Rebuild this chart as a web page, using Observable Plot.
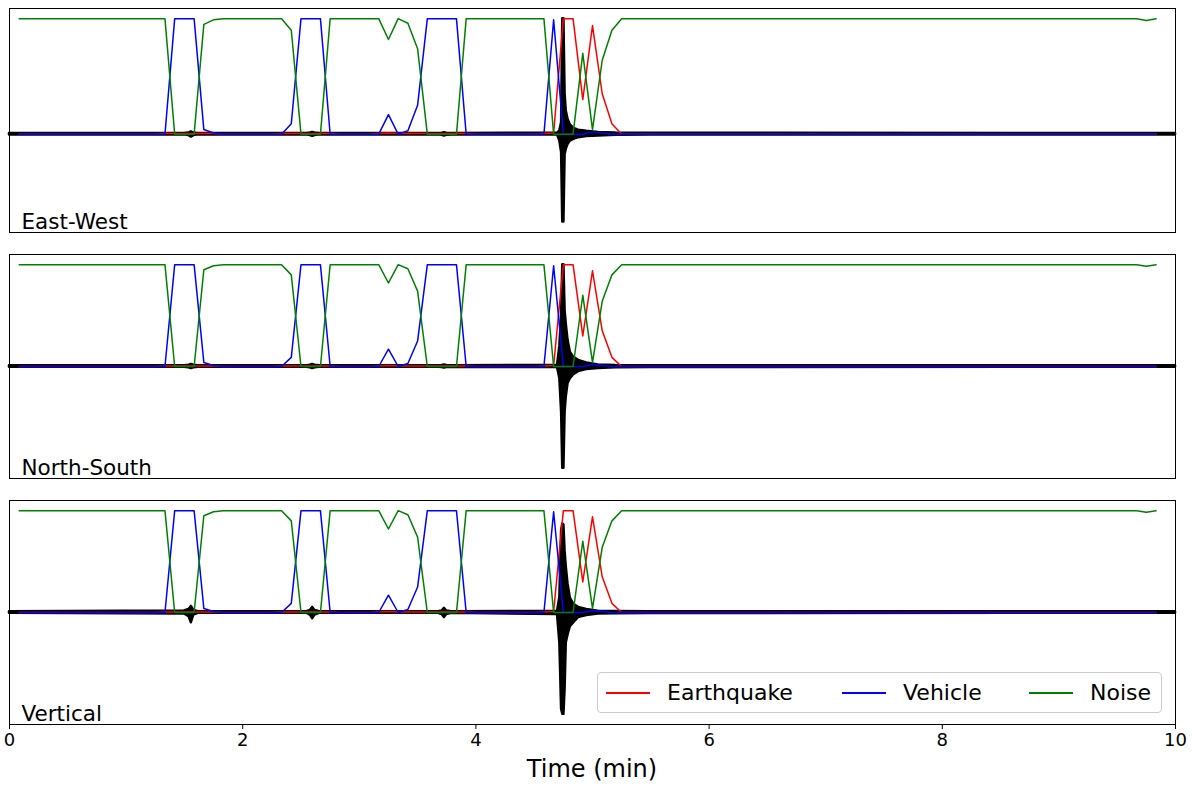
<!DOCTYPE html>
<html><head><meta charset="utf-8">
<script src="https://cdn.jsdelivr.net/npm/d3@7"></script>
<script src="https://cdn.jsdelivr.net/npm/@observablehq/plot@0.6"></script>
<style>
body{margin:0;background:#fff;font-family:"DejaVu Sans",sans-serif;}
#wrap{position:relative;width:1192px;height:785px;overflow:hidden;background:#fff;}
.panel{position:absolute;left:0;}
#legend{position:absolute;left:597px;top:672px;width:565px;height:41px;border:1px solid #cccccc;border-radius:4px;background:rgba(255,255,255,0.8);box-sizing:border-box;}
.li{position:absolute;top:0;height:39px;display:flex;align-items:center;font-size:22px;color:#000;white-space:nowrap;}
.li svg{margin-right:17px;}
#xlabel{position:absolute;left:0;width:1184px;text-align:center;top:755px;font-size:24px;color:#000;}
</style></head><body><div id="wrap"></div>
<script>
// ---- Classification probabilities, one value every 5 s (t in seconds) ----
const probSeconds = [5,10,15,20,25,30,35,40,45,50,55,60,65,70,75,80,85,90,95,100,
105,110,115,120,125,130,135,140,145,150,155,160,165,170,175,180,185,190,195,200,
205,210,215,220,225,230,235,240,245,250,255,260,265,270,275,280,285,290,295,300,
305,310,315,320,325,330,335,340,345,350,355,360,365,370,375,380,385,390,395,400,
405,410,415,420,425,430,435,440,445,450,455,460,465,470,475,480,485,490,495,500,
505,510,515,520,525,530,535,540,545,550,555,560,565,570,575,580,585,590];

const earthquakeProb = [0,0,0,0,0,0,0,0,0,0,
0,0,0,0,0,0.005,0.005,0.005,0.005,0.005,
0.005,0,0,0,0,0,0,0.005,0.005,0.005,
0.005,0.005,0.005,0,0,0,0,0.005,0.01,0.005,
0.005,0.005,0.005,0.005,0.005,0.005,0.005,0,0,0,
0,0,0,0,0.005,0.01,1,1,0.30,0.94,
0.35,0.09,0,0,0,0,0,0,0,0,
0,0,0,0,0,0,0,0,0,0,
0,0,0,0,0,0,0,0,0,0,
0,0,0,0,0,0,0,0,0,0,
0,0,0,0,0,0,0,0,0,0,
0,0,0,0,0,0,0,0];

const vehicleProb = [0,0,0,0,0,0,0,0,0,0,
0,0,0,0,0,0,1,1,1,0.04,
0.01,0,0,0,0,0,0,0,0.09,1,
1,1,0,0,0,0,0,0,0.17,0,
0.03,0.25,1,1,1,1,0,0,0,0,
0,0,0,0,0,0.99,0,0,0,0.02,
0.01,0,0,0,0,0,0,0,0,0,
0,0,0,0,0,0,0,0,0,0,
0,0,0,0,0,0,0,0,0,0,
0,0,0,0,0,0,0,0,0,0,
0,0,0,0,0,0,0,0,0,0,
0,0,0,0,0,0,0,0];

const noiseProb = [1,1,1,1,1,1,1,1,1,1,
1,1,1,1,1,1,0,0,0,0.95,
0.99,1,1,1,1,1,1,1,0.90,0,
0,0,1,1,1,1,1,1,0.82,1,
0.96,0.74,0,0,0,0,1,1,1,1,
1,1,1,1,1,0,0,0,0.70,0.04,
0.64,0.90,1,1,1,1,1,1,1,1,
1,1,1,1,1,1,1,1,1,1,
1,1,1,1,1,1,1,1,1,1,
1,1,1,1,1,1,1,1,1,1,
1,1,1,1,1,1,1,1,1,1,
1,1,1,1,1,1,0.985,1];

// ---- Normalised waveform envelopes (time in minutes) ----
const envTime = [0,1.50,1.54,1.56,1.58,1.62,2.55,2.58,2.60,2.62,2.66,3.68,3.71,3.73,3.75,3.79,
4.70,4.72,4.735,4.745,4.755,4.765,4.775,4.79,4.81,4.84,4.88,4.95,5.05,5.20,5.50,10];

const ewUpper = [0.006,0.006,0.01,0.02,0.01,0.006,0.006,0.01,0.015,0.01,0.006,0.006,0.008,0.012,0.008,0.006,
0.008,0.03,0.10,1.0,1.0,0.35,0.20,0.13,0.08,0.05,0.035,0.025,0.015,0.01,0.008,0.006];
const ewLower = [-0.006,-0.006,-0.012,-0.025,-0.012,-0.006,-0.006,-0.012,-0.018,-0.012,-0.006,-0.006,-0.01,-0.015,-0.01,-0.006,
-0.008,-0.06,-0.16,-0.76,-0.76,-0.18,-0.13,-0.09,-0.06,-0.045,-0.03,-0.02,-0.015,-0.01,-0.008,-0.006];

const nsUpper = [0.007,0.007,0.012,0.02,0.012,0.007,0.007,0.012,0.02,0.012,0.007,0.007,0.01,0.015,0.01,0.007,
0.01,0.20,0.50,1.0,1.0,0.55,0.42,0.26,0.14,0.09,0.06,0.035,0.015,0.01,0.008,0.007];
const nsLower = [-0.007,-0.007,-0.012,-0.02,-0.012,-0.007,-0.007,-0.012,-0.02,-0.012,-0.007,-0.007,-0.01,-0.015,-0.01,-0.007,
-0.01,-0.12,-0.45,-1.0,-1.0,-0.45,-0.30,-0.17,-0.12,-0.08,-0.05,-0.03,-0.02,-0.012,-0.01,-0.007];

const zUpper = [0.007,0.015,0.03,0.06,0.02,0.007,0.007,0.02,0.05,0.02,0.007,0.007,0.015,0.04,0.015,0.007,
0.01,0.15,0.80,0.87,0.86,0.60,0.45,0.28,0.14,0.08,0.05,0.03,0.012,0.01,0.008,0.007];
const zLower = [-0.007,-0.015,-0.04,-0.10,-0.025,-0.007,-0.007,-0.025,-0.06,-0.025,-0.007,-0.007,-0.02,-0.05,-0.02,-0.007,
-0.02,-0.30,-0.95,-1.0,-1.0,-0.75,-0.30,-0.22,-0.14,-0.10,-0.05,-0.03,-0.015,-0.012,-0.01,-0.007];

const componentNames = ["East-West","North-South","Vertical"];
const xTicks = [0,2,4,6,8,10];
const classNames = ["Earthquake","Vehicle","Noise"];
const classColors = ["#ff0000","#0000ff","#008000"];

// ---- build tables ----
const prob = probSeconds.map((s,i)=>({t:s/60, quake:earthquakeProb[i], vehicle:vehicleProb[i], noise:noiseProb[i]}));
const envs = [[ewUpper,ewLower],[nsUpper,nsLower],[zUpper,zLower]].map(([u,l])=>envTime.map((t,i)=>({t, hi:u[i], lo:l[i]})));
const yDomains = [[-0.851,1.088],[-1.1,1.1],[-1.1,1.1]];
const tops = [0,246,492];

const wrap = document.getElementById("wrap");
componentNames.forEach((name,k)=>{
  const last = k===2;
  const marks = [
    Plot.areaY(envs[k], {x:"t", y1:"lo", y2:"hi", fill:"black", stroke:"black", strokeWidth:2.5, strokeLinejoin:"round"}),
    Plot.line(prob, {x:"t", y:"quake", stroke:classColors[0], strokeWidth:1.5}),
    Plot.line(prob, {x:"t", y:"vehicle", stroke:classColors[1], strokeWidth:1.5}),
    Plot.line(prob, {x:"t", y:"noise", stroke:classColors[2], strokeWidth:1.5}),
    Plot.text([name], {frameAnchor:"bottom-left", text:d=>d, dx:12, dy:-4, fontSize:21.5, textAnchor:"start", lineAnchor:"bottom", fill:"black"}),
    Plot.frame({stroke:"black", strokeWidth:1})
  ];
  if (last) marks.push(Plot.axisX(xTicks, {tickSize:5, tickPadding:4, tickFormat:d=>String(d), label:null, fontSize:18}));
  const chart = Plot.plot({
    width:1192, height: last ? 292 : 240,
    marginLeft:9, marginRight:17, marginTop:8, marginBottom: last ? 60 : 8,
    x:{domain:[0,10], axis: last ? undefined : null},
    y:{domain:yDomains[k], axis:null},
    style:{fontFamily:"DejaVu Sans, sans-serif", background:"transparent", fontSize:"18px", overflow:"visible"},
    marks
  });
  chart.classList.add("panel");
  chart.style.top = tops[k]+"px";
  wrap.appendChild(chart);
});

// legend (inside bottom panel, lower right)
const lg = document.createElement("div");
lg.id = "legend";
const lefts = [8, 244, 431];
classNames.forEach((n,i)=>{
  const it = document.createElement("div");
  it.className = "li";
  it.style.left = lefts[i]+"px";
  it.innerHTML = `<svg width="44" height="4"><line x1="0" y1="2" x2="44" y2="2" stroke="${classColors[i]}" stroke-width="2"/></svg><span>${n}</span>`;
  lg.appendChild(it);
});
wrap.appendChild(lg);

const xl = document.createElement("div");
xl.id = "xlabel";
xl.textContent = "Time (min)";
wrap.appendChild(xl);
</script></body></html>
